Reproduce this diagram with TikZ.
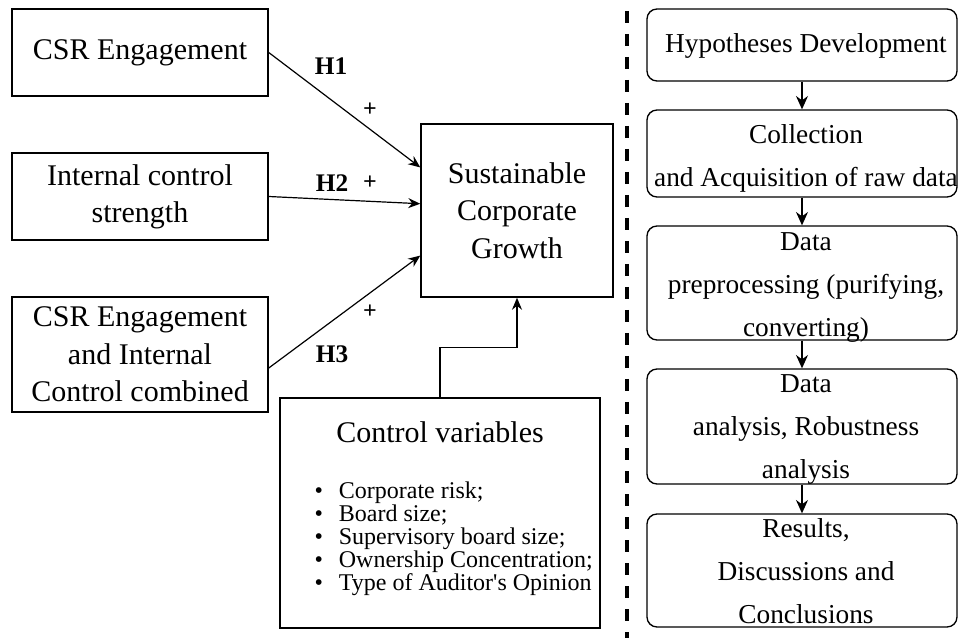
\documentclass[tikz,border=0pt]{standalone}
\usepackage{fontspec}
\setmainfont{Liberation Serif}
\usetikzlibrary{arrows.meta}

\tikzset{every picture/.style={line width=0.75pt}}
\tikzset{
  varbox/.style={draw, line width=1.1pt, inner sep=0pt, align=center, minimum width=192pt, font=\fontsize{22.5}{28}\selectfont},
  flowbox/.style={draw, rounded corners=7.5pt, line width=1pt, inner sep=0pt, minimum width=232.5pt},
  flowtxt/.style={inner sep=0pt, align=center, font=\fontsize{20.5}{32.25}\selectfont},
  hyplbl/.style={inner sep=0pt, anchor=base, font=\bfseries\fontsize{19}{19}\selectfont},
  signlbl/.style={inner sep=0pt, font=\bfseries\fontsize{18}{18}\selectfont},
  arr/.style={-{Stealth[length=9pt,width=7.5pt]}, line width=0.9pt},
  flowarr/.style={-{Stealth[length=10pt,width=9pt]}, line width=1.1pt},
}

\begin{document}
\begin{tikzpicture}[x=0.75pt,y=0.75pt,yscale=-1,xscale=1]
  \useasboundingbox (0,0) rectangle (958,638);

  %Shape: Rectangle [CSR engagement]
  \node[varbox, minimum height=65.25pt] (csr) at (140,52.5) {CSR Engagement};
  %Shape: Rectangle [internal control]
  \node[varbox, minimum height=65.25pt] (ic) at (140,196.5) {Internal control\\strength};
  %Shape: Rectangle [combined]
  \node[varbox, minimum height=86.25pt] (combo) at (140,354.5) {CSR Engagement\\and Internal\\Control combined};
  %Shape: Rectangle [outcome]
  \node[varbox, minimum width=144pt, minimum height=129.75pt] (scg) at (517,210.5) {Sustainable\\Corporate\\Growth};
  %Shape: Rectangle [controls]
  \node[draw, line width=1.1pt, minimum width=240pt, minimum height=172.5pt] (ctrl) at (440,513) {};

  %Straight Lines [hypotheses]
  \draw[arr] (csr.east) -- (scg.156);
  \draw[arr] (ic.east) -- (scg.176);
  \draw[arr] (combo.354) -- (scg.205);
  %Straight Lines [controls to outcome]
  \draw[arr] (ctrl.north) -- ++(0,-50) -| (scg.south);

  % Text Node
  \node[hyplbl] (h1) at (331,75) {H1};
  % Text Node
  \node[hyplbl] (h2) at (332,192) {H2};
  % Text Node
  \node[hyplbl] (h3) at (332,363) {H3};
  % Text Node
  \node[signlbl] (p1) at (370,110) {+};
  % Text Node
  \node[signlbl] (p2) at (370,183) {+};
  % Text Node
  \node[signlbl] (p3) at (370,312) {+};
  % Text Node
  \node[anchor=base, inner sep=0pt, font=\fontsize{22.5}{28}\selectfont] (ctitle) at (440,442) {Control variables};
  % Text Node
  \node[anchor=north west, inner sep=0pt, align=left, font=\fontsize{18}{17.25}\selectfont] (clist) at (314,481)
    {\textbullet\hspace{12pt}Corporate risk;\\
     \textbullet\hspace{12pt}Board size;\\
     \textbullet\hspace{12pt}Supervisory board size;\\
     \textbullet\hspace{12pt}Ownership Concentration;\\
     \textbullet\hspace{12pt}Type of Auditor\textquotesingle s Opinion};

  %Straight Lines [separator]
  \draw[line width=2.4pt, dash pattern=on 9pt off 8.25pt] (627,11) -- (627,640);

  %Shape: Rounded Rectangle [research steps]
  \node[flowbox, minimum height=54pt] (hyp) at (802,45) {};
  \node[flowbox, minimum height=65.25pt] (coll) at (802,153.5) {};
  \node[flowbox, minimum height=85.5pt] (prep) at (802,283) {};
  \node[flowbox, minimum height=86.25pt] (anal) at (802,426.5) {};
  \node[flowbox, minimum height=84.75pt] (res) at (802,570.5) {};

  % Text Node
  \node[flowtxt, anchor=base] (hypt) at (806,53) {Hypotheses Development};
  % Text Node
  \node[flowtxt, anchor=north] (collt) at (806,124) {Collection\\and Acquisition of raw data};
  % Text Node
  \node[flowtxt, anchor=north] (prept) at (806,232.5) {Data\\preprocessing (purifying,\\converting)};
  % Text Node
  \node[flowtxt, anchor=north] (analt) at (806,374.5) {Data\\analysis, Robustness\\analysis};
  % Text Node
  \node[flowtxt, anchor=north] (rest) at (806,518) {Results,\\Discussions and\\Conclusions};

  %Straight Lines [steps]
  \draw[flowarr] (hyp.south) -- (coll.north);
  \draw[flowarr] (coll.south) -- (prep.north);
  \draw[flowarr] (prep.south) -- (anal.north);
  \draw[flowarr] (anal.south) -- (res.north);

\end{tikzpicture}
\end{document}
